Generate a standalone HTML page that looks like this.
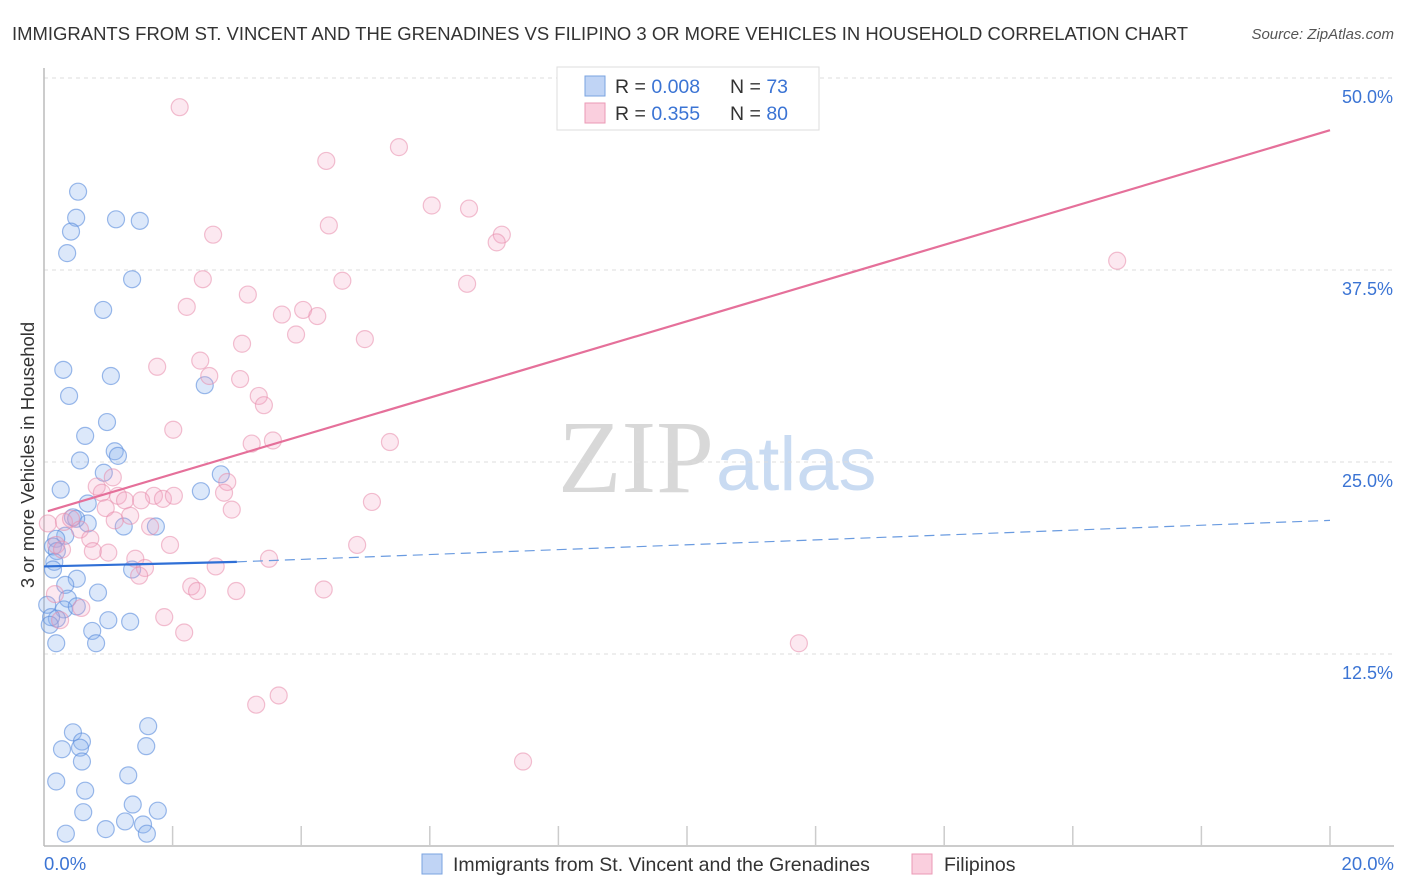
<!DOCTYPE html>
<html><head><meta charset="utf-8"><style>
body{margin:0;background:#fff;font-family:"Liberation Sans",sans-serif;}
svg{display:block}
</style></head><body>
<svg width="1406" height="892" viewBox="0 0 1406 892">
<text x="12" y="40" font-size="18.5" fill="#333" textLength="1176" lengthAdjust="spacingAndGlyphs">IMMIGRANTS FROM ST. VINCENT AND THE GRENADINES VS FILIPINO 3 OR MORE VEHICLES IN HOUSEHOLD CORRELATION CHART</text>
<text x="1394" y="39" font-size="15" fill="#555" font-style="italic" text-anchor="end">Source: ZipAtlas.com</text>
<text x="714" y="492" font-size="104" fill="#d8d8d8" text-anchor="end" font-family="Liberation Serif,serif">ZIP</text>
<text x="716" y="490" font-size="76" fill="#c9dbf2">atlas</text>
<g id="grid"></g>
<g id="axes"></g>
<g id="pts"></g>
<g id="lines"></g>
<text transform="translate(34,455) rotate(-90)" font-size="18.5" fill="#333" text-anchor="middle">3 or more Vehicles in Household</text>
<g>
<rect x="557" y="67" width="262" height="63" fill="#fff" stroke="#ddd"/>
<rect x="585" y="76" width="20" height="20" fill="rgba(130,170,235,0.5)" stroke="#7aa3e0"/>
<rect x="585" y="103" width="20" height="20" fill="rgba(245,160,190,0.5)" stroke="#eb9ab5"/>
<text x="615" y="93" font-size="19.5" fill="#333">R = <tspan fill="#3b74d4">0.008</tspan></text>
<text x="730" y="93" font-size="19.5" fill="#333">N = <tspan fill="#3b74d4"> 73</tspan></text>
<text x="615" y="120" font-size="19.5" fill="#333">R = <tspan fill="#3b74d4"> 0.355</tspan></text>
<text x="730" y="120" font-size="19.5" fill="#333">N = <tspan fill="#3b74d4">80</tspan></text>
</g>
<g>
<rect x="422" y="854" width="20" height="20" fill="rgba(130,170,235,0.5)" stroke="#7aa3e0"/>
<text x="453" y="871" font-size="19.5" fill="#333">Immigrants from St. Vincent and the Grenadines</text>
<rect x="912" y="854" width="20" height="20" fill="rgba(245,160,190,0.5)" stroke="#eb9ab5"/>
<text x="944" y="871" font-size="19.5" fill="#333">Filipinos</text>
</g>
</svg>
<script>
const yTicks=[12.5,25,37.5,50];
const yTickLabels=["12.5%","25.0%","37.5%","50.0%"];
const xTickLabels=["0.0%","20.0%"];
const blueX=[.53,.50,.42,.36,1.12,1.49,1.37,.92,.30,1.04,.39,2.50,.98,.64,1.10,1.15,.56,.93,2.75,.26,2.44,.68,.45,.68,1.24,1.74,.33,.19,.14,.20,.16,.14,.51,1.37,.33,.84,.37,.05,.31,.51,.20,.11,.09,1.00,1.34,.75,.81,.19,.45,1.62,.59,.28,1.59,.56,.59,.19,.64,1.31,.61,1.38,1.77,1.26,1.54,.96,.34,1.60,.50];
const blueY=[42.6,40.9,40.0,38.6,40.8,40.7,36.9,34.9,31.0,30.6,29.3,30.0,27.6,26.7,25.7,25.4,25.1,24.3,24.2,23.2,23.1,22.3,21.4,21.0,20.8,20.8,20.2,20.0,19.5,19.2,18.5,18.0,17.4,18.0,17.0,16.5,16.1,15.7,15.4,15.6,14.8,14.9,14.4,14.7,14.6,14.0,13.2,13.2,7.4,7.8,6.8,6.3,6.5,6.4,5.5,4.2,3.6,4.6,2.2,2.7,2.3,1.6,1.4,1.1,0.8,0.8,21.3];
const pinkX=[2.11,4.39,5.52,4.43,6.03,6.61,7.12,7.04,2.63,2.47,4.64,6.58,3.17,2.22,3.70,4.03,4.25,3.92,4.99,3.08,2.43,1.76,3.05,2.57,3.34,3.42,16.69,2.01,3.23,3.56,5.38,1.07,2.85,.82,.90,1.15,1.26,1.71,1.51,1.85,2.02,2.80,5.10,2.92,.96,1.34,1.10,.06,.31,.42,.56,1.65,.72,.19,1.96,4.87,.76,1.00,1.42,3.50,1.57,2.67,1.48,2.29,2.38,2.99,4.35,.58,1.87,.25,2.18,11.74,3.65,3.30,7.45,.17,.28];
const pinkY=[48.1,44.6,45.5,40.4,41.7,41.5,39.8,39.3,39.8,36.9,36.8,36.6,35.9,35.1,34.6,34.9,34.5,33.3,33.0,32.7,31.6,31.2,30.4,30.6,29.3,28.7,38.1,27.1,26.2,26.4,26.3,24.0,23.7,23.4,23.0,22.8,22.5,22.8,22.5,22.6,22.8,23.0,22.4,21.9,22.0,21.5,21.2,21.0,21.1,21.3,20.6,20.8,20.0,19.6,19.6,19.6,19.2,19.1,18.7,18.7,18.1,18.2,17.6,16.9,16.6,16.6,16.7,15.5,14.9,14.7,13.9,13.2,9.8,9.2,5.5,16.4,19.3];
const pinkTrend=[[0.06,21.8],[20,46.6]];
const blueTrendSolid=[[0,18.2],[3,18.5]];
const blueTrendDash=[[3,18.5],[20,21.2]];
const NS="http://www.w3.org/2000/svg";
const sx=v=>44+v/20*1286, sy=v=>846-v/50*768;
function mk(tag,attrs,parent){const e=document.createElementNS(NS,tag);for(const k in attrs)e.setAttribute(k,attrs[k]);document.getElementById(parent).appendChild(e);return e;}
yTicks.forEach((t,i)=>{
 const g=mk('line',{x1:44,x2:1394,y1:sy(t),y2:sy(t),stroke:'#ddd','stroke-dasharray':'4,4'},'grid');
 
 
 const l=mk('text',{x:1393,y:sy(t)+25,'font-size':18,fill:'#3b74d4','text-anchor':'end'},'axes');
 l.textContent=yTickLabels[i];
 
 
});
const ax=mk('line',{x1:44,x2:44,y1:68,y2:846,stroke:'#bbb','stroke-width':1.5},'axes');


const bx=mk('line',{x1:44,x2:1394,y1:846,y2:846,stroke:'#bbb','stroke-width':1.5},'axes');


for(let i=1;i<=10;i++){
 const t=mk('line',{x1:sx(i*2),x2:sx(i*2),y1:826,y2:846,stroke:'#ccc','stroke-width':1.5},'axes');
 
 
}
[[0,44,'start'],[20,1394,'end']].forEach((d,i)=>{
 const l=mk('text',{x:d[1],y:870,'font-size':18.5,fill:'#3b74d4','text-anchor':d[2]},'axes');
 l.textContent=xTickLabels[i];
 
 
});
blueX.forEach((x,i)=>{
 const c=mk('circle',{cx:sx(x),cy:sy(blueY[i]),r:8.5,fill:'rgba(140,178,238,0.3)',stroke:'rgba(90,140,220,0.6)','stroke-width':1.2},'pts');
 
 
});
pinkX.forEach((x,i)=>{
 const c=mk('circle',{cx:sx(x),cy:sy(pinkY[i]),r:8.5,fill:'rgba(245,165,195,0.25)',stroke:'rgba(232,140,172,0.55)','stroke-width':1.2},'pts');
 
 
});
const pl=mk('line',{x1:sx(pinkTrend[0][0]),y1:sy(pinkTrend[0][1]),x2:sx(pinkTrend[1][0]),y2:sy(pinkTrend[1][1]),stroke:'#e5709a','stroke-width':2.2},'lines');


const bl=mk('line',{x1:sx(blueTrendSolid[0][0]),y1:sy(blueTrendSolid[0][1]),x2:sx(blueTrendSolid[1][0]),y2:sy(blueTrendSolid[1][1]),stroke:'#2f6fd6','stroke-width':2.2},'lines');


const bd=mk('line',{x1:sx(blueTrendDash[0][0]),y1:sy(blueTrendDash[0][1]),x2:sx(blueTrendDash[1][0]),y2:sy(blueTrendDash[1][1]),stroke:'#6a9be0','stroke-width':1.2,'stroke-dasharray':'10,6'},'lines');


</script>
</body></html>
